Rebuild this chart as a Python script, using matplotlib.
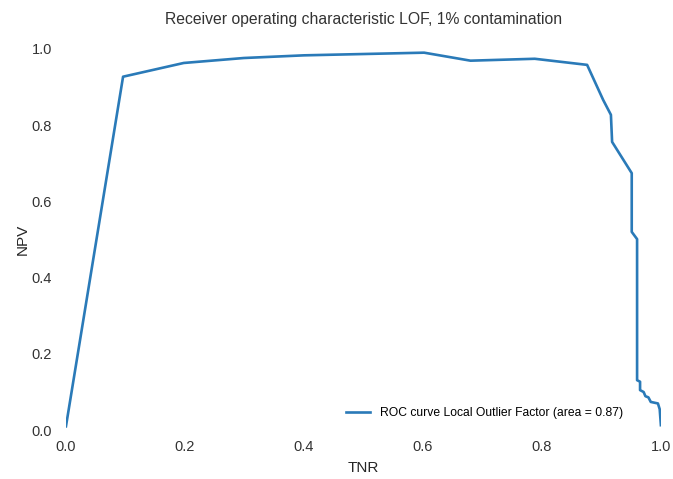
import matplotlib
matplotlib.use("Agg")
import matplotlib.pyplot as plt

# ROC-style curve of negative predictive value vs true negative rate
tnr = [0.0, 0.096, 0.198, 0.299, 0.40, 0.602, 0.68, 0.788, 0.876, 0.903, 0.916,
       0.918, 0.951, 0.951, 0.960, 0.960, 0.965, 0.965, 0.971, 0.974, 0.979,
       0.983, 0.995, 0.998, 1.0]
npv = [0.01, 0.927, 0.963, 0.976, 0.983, 0.990, 0.969, 0.974, 0.958, 0.866, 0.827,
       0.756, 0.674, 0.520, 0.501, 0.131, 0.127, 0.105, 0.100, 0.089, 0.086,
       0.074, 0.070, 0.055, 0.013]
roc_auc = 0.87

plt.rcParams['font.family'] = ['Liberation Sans', 'DejaVu Sans']

fig, ax = plt.subplots(figsize=(6.73, 4.79), dpi=100)
fig.subplots_adjust(left=0.098, right=0.982, bottom=0.102, top=0.898)

ax.plot(tnr, npv, color='#2a7ab8', lw=1.9,
        label='ROC curve Local Outlier Factor (area = %0.2f)' % roc_auc)

ax.set_xlim(0.0, 1.0)
ax.set_ylim(0.0, 1.0)
ax.set_xticks([0.0, 0.2, 0.4, 0.6, 0.8, 1.0])
ax.set_yticks([0.0, 0.2, 0.4, 0.6, 0.8, 1.0])
for s in ax.spines.values():
    s.set_visible(False)
ax.tick_params(axis='x', length=0, labelsize=10.5, colors='#333333', pad=7)
ax.tick_params(axis='y', length=0, labelsize=10.5, colors='#333333', pad=10)

ax.set_xlabel('TNR', fontsize=11, color='#262626', labelpad=5)
ax.set_ylabel('NPV', fontsize=11, color='#262626', labelpad=1)
ax.set_title('Receiver operating characteristic LOF, 1% contamination',
             fontsize=11.3, color='#333333', pad=18)
ax.legend(loc='lower right', frameon=False, fontsize=8.7,
          bbox_to_anchor=(0.955, 0.0))

fig.savefig('out.png')
